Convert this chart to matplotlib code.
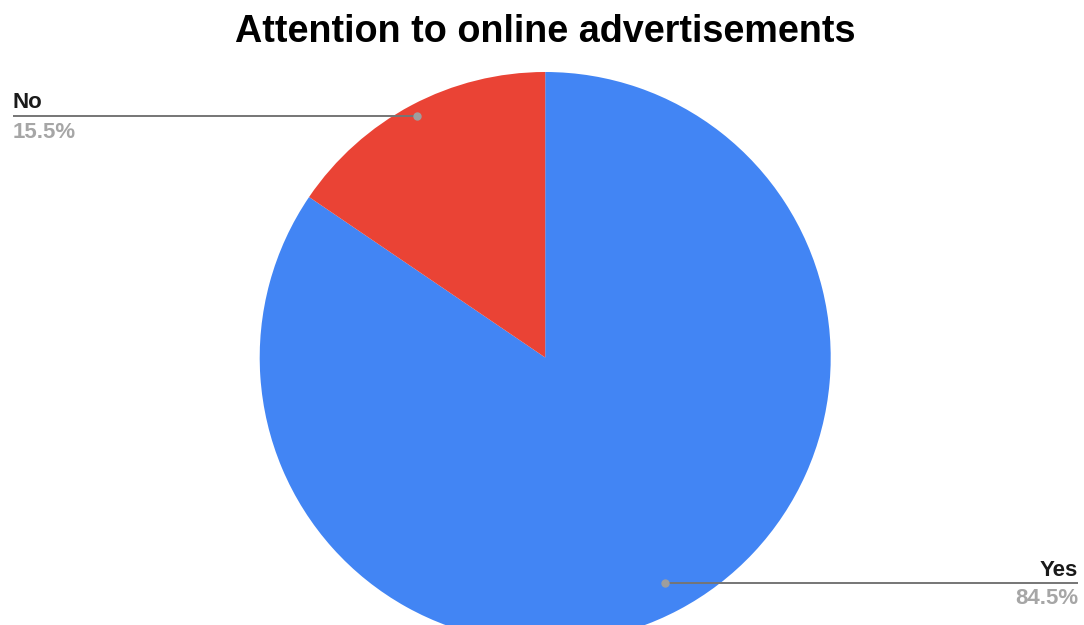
import matplotlib
matplotlib.use("Agg")
import matplotlib.pyplot as plt
import numpy as np

# survey answers
labels = ["Yes", "No"]
shares = [84.5, 15.5]
colors = ["#4285F4", "#EA4335"]

W, H = 1084, 625
fig = plt.figure(figsize=(W / 100, H / 100), dpi=100)
plt.rcParams["font.family"] = ["Liberation Sans", "DejaVu Sans"]

# pie placed in pixel terms: centre and radius
cx, cy, r = 545.2, 357.5, 285.5
ax = fig.add_axes([(cx - r) / W, (H - cy - r) / H, 2 * r / W, 2 * r / H])

wedges, _ = ax.pie(shares, colors=colors, startangle=90, counterclock=False,
                   radius=1, wedgeprops=dict(linewidth=0))
# pie() resets the limits, so set them afterwards
ax.set_xlim(-1, 1)
ax.set_ylim(-1, 1)
ax.set_aspect("equal")
ax.axis("off")
for w in wedges:
    w.set_clip_on(False)

fig.text(0.5 * (234 + 856) / W, 1 - 41.5 / H, "Attention to online advertisements",
         ha="center", va="baseline", fontsize=27.2, fontweight="bold", color="#000000")

# leader lines: y of the line in pixels, and which side the label sits on
line_y = {"No": 116, "Yes": 583}
side = {"No": "left", "Yes": "right"}

for w, lab, val in zip(wedges, labels, shares):
    mid = np.deg2rad(0.5 * (w.theta1 + w.theta2))
    py = line_y[lab]
    dy = (cy - py) / r
    dx = dy / np.tan(mid)
    if side[lab] == "left":
        x0, x1 = (13 - cx) / r, dx
        tx, ha = 13 / W, "left"
    else:
        x0, x1 = dx, (1078 - cx) / r
        tx, ha = 1078 / W, "right"
    ax.plot([x0, x1], [dy, dy], color="#757575", lw=1.4, clip_on=False,
            solid_capstyle="butt")
    ax.plot([dx], [dy], "o", color="#9E9E9E", ms=5, clip_on=False)
    fig.text(tx, 1 - (py - 7.5) / H, lab, ha=ha, va="baseline",
             fontsize=16, fontweight="bold", color="#1A1A1A")
    fig.text(tx, 1 - (py + 21.5) / H, f"{val}%", ha=ha, va="baseline",
             fontsize=16, fontweight="bold", color="#A6A6A6")

fig.savefig("out.png", dpi=100, facecolor="white")
